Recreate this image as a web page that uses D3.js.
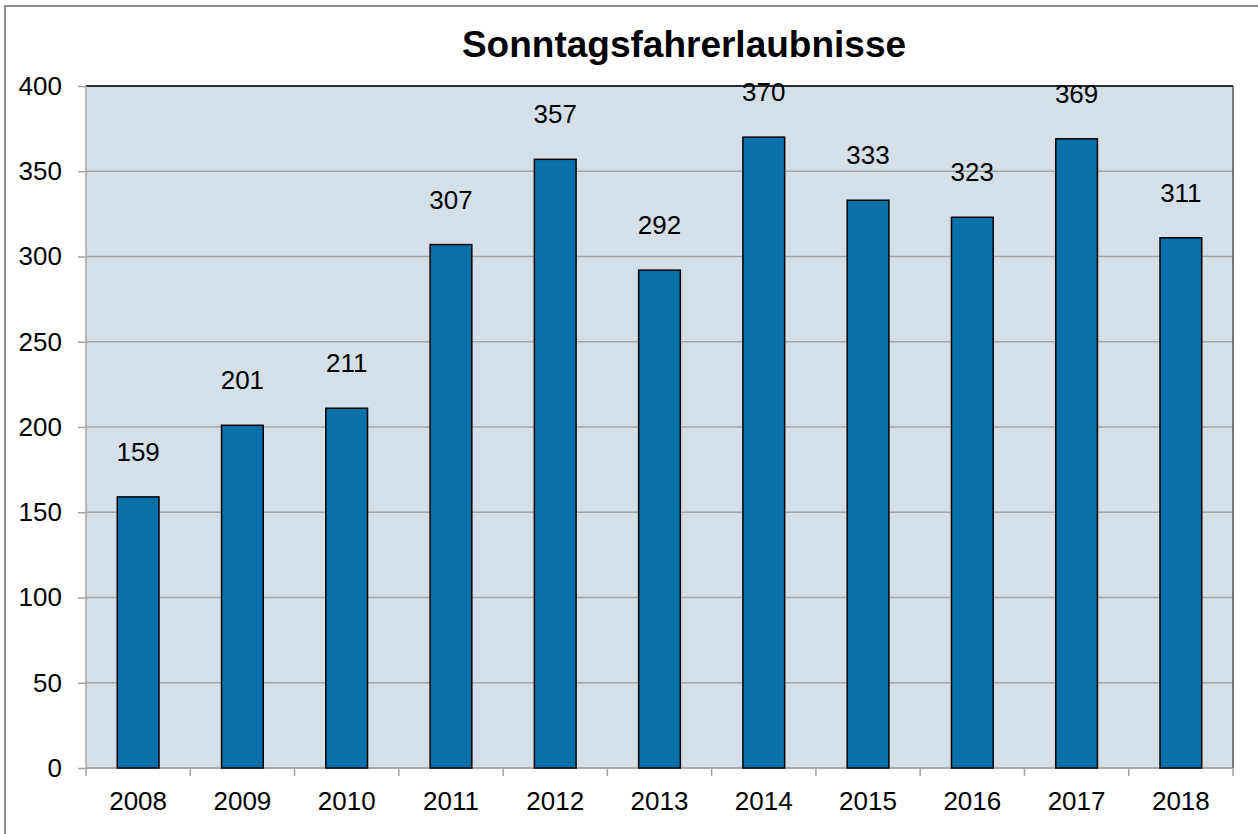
<!DOCTYPE html>
<html>
<head>
<meta charset="utf-8">
<script src="https://cdn.jsdelivr.net/npm/d3@7"></script>
<style>
  body { margin: 0; background: #fff; }
  text { font-family: "Liberation Sans", Arial, sans-serif; }
</style>
</head>
<body>
<div id="chart"></div>
<script>
// data
var years = ["2008", "2009", "2010", "2011", "2012", "2013", "2014", "2015", "2016", "2017", "2018"]
var values = [159, 201, 211, 307, 357, 292, 370, 333, 323, 369, 311]
var yTicks = [0, 50, 100, 150, 200, 250, 300, 350, 400]

var W = 1258, H = 834
var margin = { top: 86, right: 25, bottom: 66, left: 86 }
var width = W - margin.left - margin.right,
    height = H - margin.top - margin.bottom

var svg = d3.select("#chart")
    .append("svg")
    .attr("width", W)
    .attr("height", H)

// outer frame (only top and left visible in the picture)
svg.append("path")
    .attr("d", "M5,834 L5,6 L1258,6")
    .attr("fill", "none")
    .attr("stroke", "#8c8c8c")
    .attr("stroke-width", 2)

svg.append("text")
    .attr("x", 684)
    .attr("y", 57)
    .attr("text-anchor", "middle")
    .style("font-size", "37px")
    .style("font-weight", "bold")
    .text("Sonntagsfahrerlaubnisse")

var g = svg.append("g")
    .attr("transform", "translate(" + margin.left + "," + margin.top + ")")

var x = d3.scaleBand()
    .domain(years)
    .range([0, width])
    .paddingInner(0.6)
    .paddingOuter(0.3)

var xOuter = d3.scaleBand()
    .domain(years)
    .range([0, width])

var y = d3.scaleLinear()
    .domain([0, 400])
    .range([height, 0])

// plot background
g.append("rect")
    .attr("width", width)
    .attr("height", height)
    .attr("fill", "#d5dfe8")

// grid lines
g.selectAll(".grid")
    .data(yTicks)
    .enter()
    .append("line")
    .attr("x1", 0)
    .attr("x2", width)
    .attr("y1", function (d) { return y(d) })
    .attr("y2", function (d) { return y(d) })
    .attr("stroke", "#a3a3a3")
    .attr("stroke-width", 1.5)

// plot border: top black, right dark gray, left light gray
g.append("line").attr("x1", 0).attr("x2", width).attr("y1", 0).attr("y2", 0)
    .attr("stroke", "#000").attr("stroke-width", 1.5)
g.append("line").attr("x1", width).attr("x2", width).attr("y1", 0).attr("y2", height)
    .attr("stroke", "#555").attr("stroke-width", 1.5)
g.append("line").attr("x1", 0).attr("x2", 0).attr("y1", 0).attr("y2", height)
    .attr("stroke", "#a3a3a3").attr("stroke-width", 1.5)

// y axis
var yAxis = g.append("g")
    .call(d3.axisLeft(y).tickValues(yTicks).tickSize(8).tickPadding(8))
yAxis.select(".domain").remove()
yAxis.selectAll(".tick line").attr("stroke", "#a3a3a3").attr("stroke-width", 1.5)
yAxis.selectAll(".tick text")
    .style("font-size", "26px")
    .attr("fill", "#000")
    .attr("x", -24)

// x axis: ticks at category boundaries
var bounds = years.map(function (d) { return xOuter(d) }).concat([width])
g.selectAll(".xtick")
    .data(bounds)
    .enter()
    .append("line")
    .attr("x1", function (d) { return d })
    .attr("x2", function (d) { return d })
    .attr("y1", height)
    .attr("y2", height + 8)
    .attr("stroke", "#a3a3a3")
    .attr("stroke-width", 1.5)
g.append("line")
    .attr("x1", 0).attr("x2", width)
    .attr("y1", height).attr("y2", height)
    .attr("stroke", "#a3a3a3").attr("stroke-width", 1.5)

g.selectAll(".xlabel")
    .data(years)
    .enter()
    .append("text")
    .attr("x", function (d) { return xOuter(d) + xOuter.bandwidth() / 2 })
    .attr("y", height + 42)
    .attr("text-anchor", "middle")
    .style("font-size", "26px")
    .text(function (d) { return d })

// bars
g.selectAll(".bar")
    .data(values)
    .enter()
    .append("rect")
    .attr("x", function (d, i) { return x(years[i]) })
    .attr("y", function (d) { return y(d) })
    .attr("width", x.bandwidth())
    .attr("height", function (d) { return height - y(d) })
    .attr("fill", "#0a70aa")
    .attr("stroke", "#000")
    .attr("stroke-width", 1.5)

// value labels
g.selectAll(".val")
    .data(values)
    .enter()
    .append("text")
    .attr("x", function (d, i) { return x(years[i]) + x.bandwidth() / 2 })
    .attr("y", function (d) { return y(d) - 36 })
    .attr("text-anchor", "middle")
    .style("font-size", "26px")
    .text(function (d) { return d })
</script>
</body>
</html>
